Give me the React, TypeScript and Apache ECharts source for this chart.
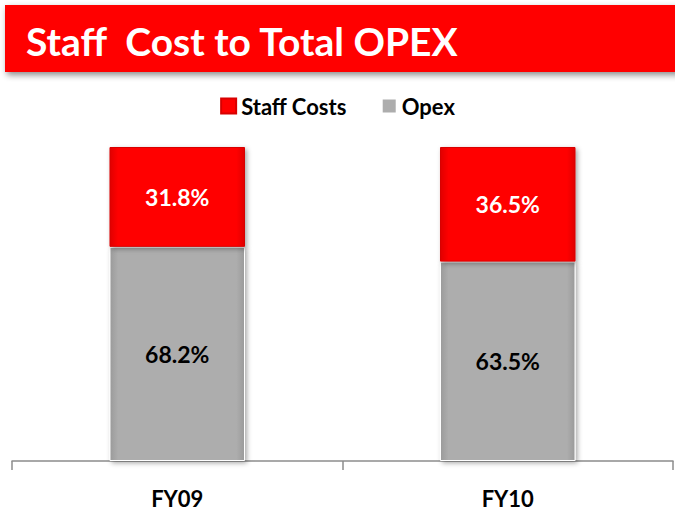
import React, { useEffect, useRef } from "react";
import * as echarts from "echarts";

const categories = ["FY09", "FY10"];
const staffCosts = [31.8, 36.5];
const opex = [68.2, 63.5];
const titleText = "Staff  Cost to Total OPEX";

export default function App() {
  const ref = useRef<HTMLDivElement>(null);
  useEffect(() => {
    if (!ref.current) return;
    const chart = echarts.init(ref.current, null, { renderer: "svg" });
    const font = "Lato, 'Open Sans', sans-serif";
    const bevel = (base: string, dark: string) => ({
      type: "linear",
      x: 0,
      y: 0,
      x2: 1,
      y2: 0,
      colorStops: [
        { offset: 0, color: dark },
        { offset: 0.06, color: base },
        { offset: 0.94, color: base },
        { offset: 1, color: dark },
      ],
    });
    chart.setOption({
      animation: false,
      backgroundColor: "#ffffff",
      graphic: [
        {
          type: "rect",
          shape: { x: 5, y: 5, width: 680, height: 67 },
          style: {
            fill: "#FF0000",
            shadowBlur: 6,
            shadowColor: "rgba(0,0,0,0.45)",
            shadowOffsetX: 2,
            shadowOffsetY: 3,
          },
          z: 10,
        },
        {
          type: "text",
          x: 26,
          y: 41,
          style: {
            text: titleText,
            fill: "#ffffff",
            font: `bold 39px ${font}`,
            textVerticalAlign: "middle",
          },
          z: 11,
        },
      ],
      legend: {
        data: ["Staff Costs", "Opex"],
        top: 90,
        left: "center",
        icon: "rect",
        itemWidth: 15,
        itemHeight: 15,
        itemGap: 34,
        textStyle: { fontFamily: font, fontWeight: "bold", fontSize: 22, color: "#000" },
      },
      grid: { left: 12, right: 2, top: 147, bottom: 53, containLabel: false },
      xAxis: {
        type: "category",
        data: categories,
        axisLine: { lineStyle: { color: "#8c8c8c", width: 1.5 } },
        axisTick: { show: true, length: 9, lineStyle: { color: "#8c8c8c", width: 1.5 } },
        axisLabel: {
          margin: 26,
          fontFamily: font,
          fontWeight: "bold",
          fontSize: 22,
          color: "#000",
        },
      },
      yAxis: { type: "value", min: 0, max: 100, show: false, splitLine: { show: false } },
      series: [
        {
          name: "Opex",
          type: "bar",
          stack: "total",
          data: opex,
          barWidth: "41%",
          itemStyle: {
            color: bevel("#ADADAD", "#9a9a9a"),
            borderColor: "#ffffff",
            borderWidth: 1,
            shadowBlur: 5,
            shadowColor: "rgba(0,0,0,0.35)",
            shadowOffsetX: 2,
            shadowOffsetY: 2,
          },
          label: {
            show: true,
            position: "inside",
            formatter: (p: any) => `${p.value.toFixed(1)}%`,
            color: "#000",
            fontFamily: font,
            fontWeight: "bold",
            fontSize: 23,
          },
        },
        {
          name: "Staff Costs",
          type: "bar",
          stack: "total",
          data: staffCosts,
          barWidth: "41%",
          itemStyle: {
            color: bevel("#FF0000", "#E00000"),
            borderColor: "#D80000",
            borderWidth: 1,
            shadowBlur: 5,
            shadowColor: "rgba(0,0,0,0.35)",
            shadowOffsetX: 2,
            shadowOffsetY: 2,
          },
          label: {
            show: true,
            position: "inside",
            formatter: (p: any) => `${p.value.toFixed(1)}%`,
            color: "#fff",
            fontFamily: font,
            fontWeight: "bold",
            fontSize: 23,
          },
        },
      ],
    });
    return () => chart.dispose();
  }, []);
  return <div ref={ref} style={{ width: 675, height: 514, position: "absolute", left: 0, top: 0 }} />;
}
